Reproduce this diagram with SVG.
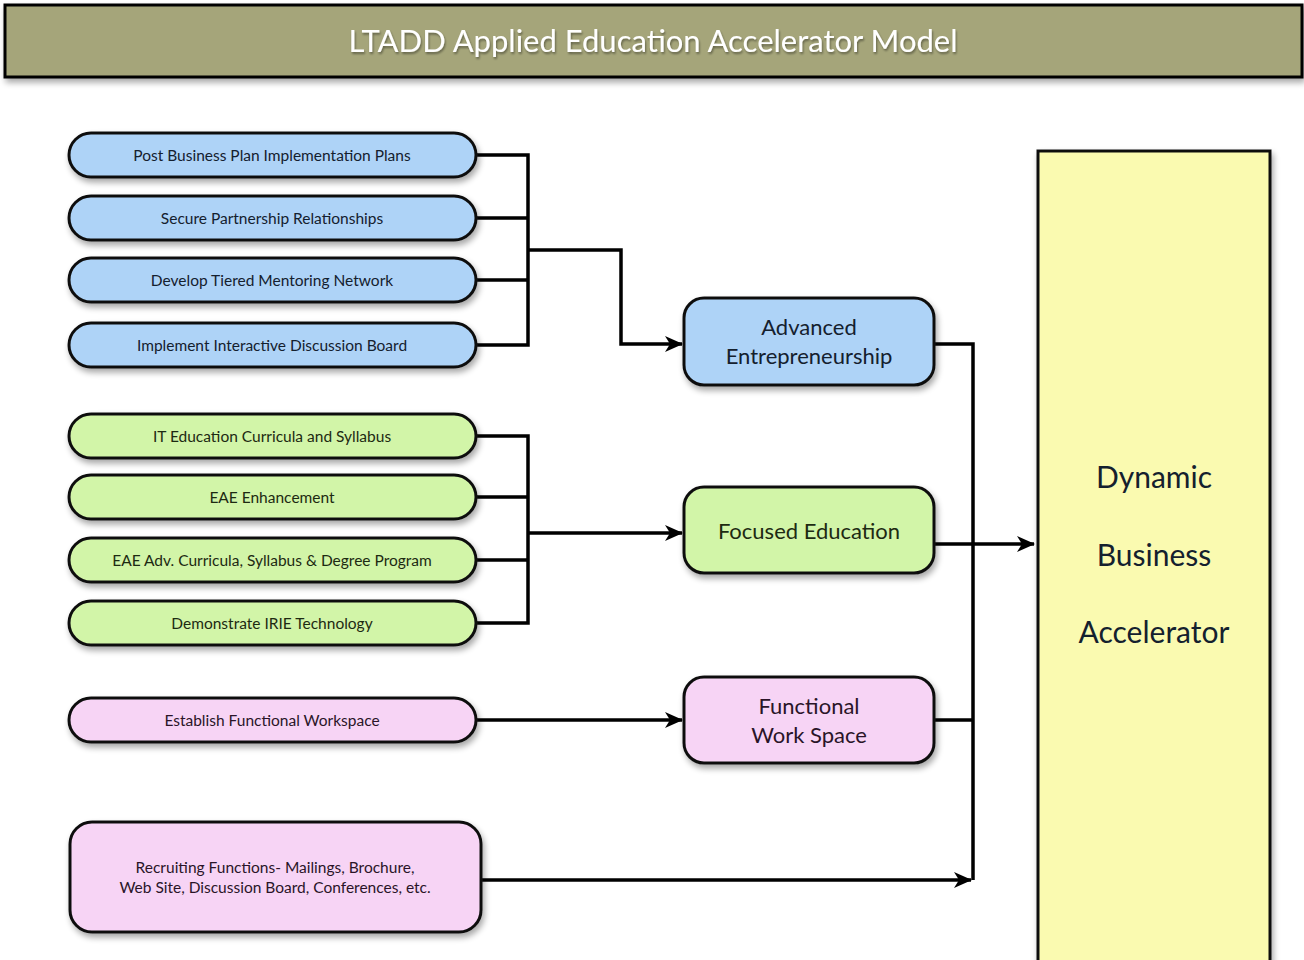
<svg xmlns="http://www.w3.org/2000/svg" width="1304" height="960" viewBox="0 0 1304 960">
<style>
.pill{stroke:#111;stroke-width:3;filter:url(#sh)}
.blue{fill:#aed3f7}
.green{fill:#d2f5a8}
.pink{fill:#f7d4f5}
.t{font-family:"Lato","Liberation Sans",sans-serif;text-anchor:middle}
.s{font-size:15.5px}
.m{font-size:22px}
.tb{fill:#14202e}
.tg{fill:#1d2a12}
.tp{fill:#2a1428}
.ln{fill:none;stroke:#000;stroke-width:3.5}
</style>
<defs>
<filter id="sh" x="-10%" y="-20%" width="125%" height="150%">
<feGaussianBlur in="SourceAlpha" stdDeviation="3"/>
<feOffset dx="2" dy="4" result="b"/>
<feComponentTransfer><feFuncA type="linear" slope="0.35"/></feComponentTransfer>
<feMerge><feMergeNode/><feMergeNode in="SourceGraphic"/></feMerge>
</filter>
<filter id="tsh"><feGaussianBlur in="SourceAlpha" stdDeviation="1"/><feOffset dx="1" dy="2"/><feComponentTransfer><feFuncA type="linear" slope="0.4"/></feComponentTransfer><feMerge><feMergeNode/><feMergeNode in="SourceGraphic"/></feMerge></filter>
<marker id="ar" markerWidth="18" markerHeight="16" refX="17" refY="8" orient="auto" markerUnits="userSpaceOnUse">
<path d="M0,0 L18,8 L0,16 L5,8 Z" fill="#000"/>
</marker>
</defs>
<rect width="1304" height="960" fill="#fff"/>
<g id="title">
<rect x="5" y="5" width="1297" height="72" fill="#a5a57a" stroke="#000" stroke-width="3" filter="url(#sh)"/>
<text x="653" y="52" class="t" font-size="31" fill="#fff" filter="url(#tsh)">LTADD Applied Education Accelerator Model</text>
</g>
<g id="connectors">
<path class="ln" d="M476,155 H528 V345 H476 M476,218 H528 M476,280 H528"/>
<path class="ln" d="M528,250 H621 V344 H682" marker-end="url(#ar)"/>
<path class="ln" d="M476,436 H528 V623 H476 M476,497 H528 M476,560 H528"/>
<path class="ln" d="M528,533 H682" marker-end="url(#ar)"/>
<path class="ln" d="M476,720 H682" marker-end="url(#ar)"/>
<path class="ln" d="M934,344 H973 V880 M934,720 H973"/>
<path class="ln" d="M481,880 H971" marker-end="url(#ar)"/>
<path class="ln" d="M934,544 H1034" marker-end="url(#ar)"/>
</g>
<g id="n1"><rect class="pill blue" x="69" y="133" width="407" height="44" rx="22"/><text class="t s tb" x="272" y="161">Post Business Plan Implementation Plans</text></g>
<g id="n2"><rect class="pill blue" x="69" y="196" width="407" height="44" rx="22"/><text class="t s tb" x="272" y="224">Secure Partnership Relationships</text></g>
<g id="n3"><rect class="pill blue" x="69" y="258" width="407" height="44" rx="22"/><text class="t s tb" x="272" y="286">Develop Tiered Mentoring Network</text></g>
<g id="n4"><rect class="pill blue" x="69" y="323" width="407" height="44" rx="22"/><text class="t s tb" x="272" y="351">Implement Interactive Discussion Board</text></g>
<g id="n5"><rect class="pill green" x="69" y="414" width="407" height="44" rx="22"/><text class="t s tg" x="272" y="442">IT Education Curricula and Syllabus</text></g>
<g id="n6"><rect class="pill green" x="69" y="475" width="407" height="44" rx="22"/><text class="t s tg" x="272" y="503">EAE Enhancement</text></g>
<g id="n7"><rect class="pill green" x="69" y="538" width="407" height="44" rx="22"/><text class="t s tg" x="272" y="566">EAE Adv. Curricula, Syllabus &amp; Degree Program</text></g>
<g id="n8"><rect class="pill green" x="69" y="601" width="407" height="44" rx="22"/><text class="t s tg" x="272" y="629">Demonstrate IRIE Technology</text></g>
<g id="n9"><rect class="pill pink" x="69" y="698" width="407" height="44" rx="22"/><text class="t s tp" x="272" y="726">Establish Functional Workspace</text></g>
<g id="n10"><rect class="pill pink" x="70" y="822" width="411" height="110" rx="22"/><text class="t s tp" x="275" y="873">Recruiting Functions- Mailings, Brochure,</text><text class="t s tp" x="275" y="893">Web Site, Discussion Board, Conferences, etc.</text></g>
<g id="ae"><rect class="pill blue" x="684" y="298" width="250" height="87" rx="20"/><text class="t m tb" x="809" y="335">Advanced</text><text class="t m tb" x="809" y="364">Entrepreneurship</text></g>
<g id="fe"><rect class="pill green" x="684" y="487" width="250" height="86" rx="20"/><text class="t m tg" x="809" y="539">Focused Education</text></g>
<g id="fws"><rect class="pill pink" x="684" y="677" width="250" height="86" rx="20"/><text class="t m tp" x="809" y="714">Functional</text><text class="t m tp" x="809" y="743">Work Space</text></g>
<g id="dba"><rect x="1038" y="151" width="232" height="812" fill="#fafab0" stroke="#111" stroke-width="3" filter="url(#sh)"/>
<text class="t tb" font-size="30" x="1154" y="488">Dynamic</text>
<text class="t tb" font-size="30" x="1154" y="566">Business</text>
<text class="t tb" font-size="30" x="1154" y="643">Accelerator</text></g>
</svg>
